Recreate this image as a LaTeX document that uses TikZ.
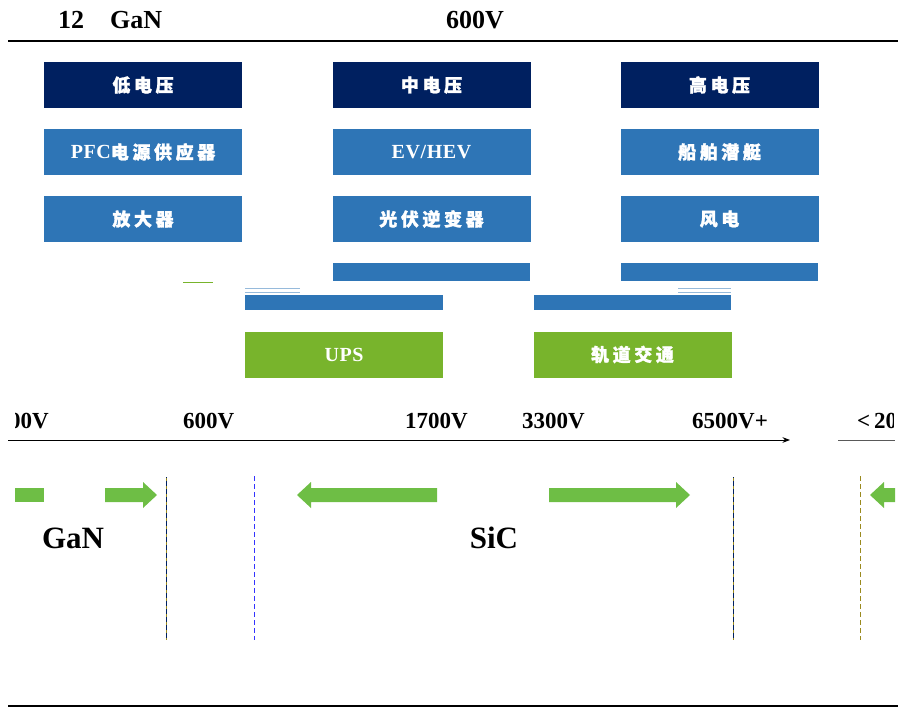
\documentclass[tikz,border=0pt]{standalone}
\usepackage{fontspec}
\setmainfont{Liberation Serif}
\newfontfamily\cjk{Noto Sans CJK SC}[FakeBold=1.5, LetterSpace=20]
\usetikzlibrary{arrows.meta}
\usetikzlibrary{calc,positioning}

\definecolor{navy}{HTML}{002060}
\definecolor{midblue}{HTML}{2E75B6}
\definecolor{leafgreen}{HTML}{78B42C}
\definecolor{arrowgreen}{HTML}{6EBE45}
\definecolor{olive}{HTML}{9A8A1E}

\begin{document}
\begin{tikzpicture}[x=1pt, y=-1pt, >=Stealth,
    box/.style = {minimum width=198pt, minimum height=46pt, inner sep=0pt,
                  text=white, font=\fontsize{20}{22}\selectfont\bfseries\addfontfeatures{LetterSpace=3}},
    headbox/.style = {box, fill=navy},
    appbox/.style = {box, fill=midblue},
    greenbox/.style = {box, fill=leafgreen},
    volt/.style = {font=\fontsize{23}{26}\selectfont\bfseries, inner sep=0pt},
    bigname/.style = {font=\fontsize{31}{34}\selectfont\bfseries, inner sep=0pt},
    vdash/.style = {dashed, dash pattern=on 5pt off 3pt, line width=0.8pt}]

    \useasboundingbox (0,0) rectangle (913,709);

    % title and rules
    \node[font=\fontsize{26}{28}\selectfont\bfseries, anchor=west, inner sep=0pt] (title) at (58,20) {12\hspace{1em}GaN};
    \node[font=\fontsize{26}{28}\selectfont\bfseries, inner sep=0pt] (ttlv) at (475,20) {600V};
    \draw[line width=2pt] (8,41) coordinate (rulea) -- (898,41);
    \draw[line width=2pt] (8,706) coordinate (ruleb) -- (898,706);

    % voltage classes
    \node[headbox] (low) at (143,85) {\cjk\fontsize{18}{20}\selectfont 低电压};
    \node[headbox] (mid) at (431.5,85) {\cjk\fontsize{18}{20}\selectfont 中电压};
    \node[headbox] (high) at (719.5,85) {\cjk\fontsize{18}{20}\selectfont 高电压};

    \node[appbox] (pfc) at (143,152) {PFC{\cjk\fontsize{18}{20}\selectfont 电源供应器}};
    \node[appbox] (ev) at (431.5,152) {EV/HEV};
    \node[appbox] (ship) at (719.5,152) {\cjk\fontsize{18}{20}\selectfont 船舶潜艇};

    \node[appbox] (amp) at (143,219) {\cjk\fontsize{18}{20}\selectfont 放大器};
    \node[appbox] (pv) at (431.5,219) {\cjk\fontsize{18}{20}\selectfont 光伏逆变器};
    \node[appbox] (wind) at (719.5,219) {\cjk\fontsize{18}{20}\selectfont 风电};

    % broken band
    \fill[midblue] (333,263) rectangle (530,281);
    \fill[midblue] (621,263) rectangle (818,281);
    \fill[midblue] (245,295) rectangle (443,310);
    \fill[midblue] (534,295) rectangle (731,310);
    \draw[leafgreen, line width=1pt] (183,282) -- (213,282);
    \draw[midblue!50, line width=1pt] (245,288) -- (300,288) (245,292) -- (300,292);
    \draw[midblue!50, line width=1pt] (678,288) -- (731,288) (678,292) -- (731,292);

    \node[greenbox] (ups) at (344,354.5) {UPS};
    \node[greenbox] (rail) at (632.5,354.5) {\cjk\fontsize{18}{20}\selectfont 轨道交通};

    % voltage axis
    \begin{scope}
        \clip (15,400) rectangle (893,460);
        \node[volt, anchor=east] (vlow) at (49,421) {00V};
        \node[volt, anchor=west] (vtop) at (857,421) {<\,20};
    \end{scope}
    \node[volt, anchor=west] (v600) at (183,421) {600V};
    \node[volt, anchor=west] (v1700) at (405,421) {1700V};
    \node[volt, anchor=west] (v3300) at (522,421) {3300V};
    \node[volt, anchor=west] (v6500) at (692,421) {6500V+};
    \draw[->, line width=1pt] (8,440) coordinate (axs) -- (790,440) coordinate (axe);
    \draw[gray!70!black, line width=1pt] (838,440) -- (895,440);

    % range arrows
    \fill[arrowgreen] (15,488) rectangle (44,502);
    \fill[arrowgreen] (105,488) -- (143,488) -- (143,482) -- (157,495) -- (143,508) -- (143,502) -- (105,502) -- cycle;
    \fill[arrowgreen] (437,488) -- (311,488) -- (311,482) -- (297,495) -- (311,508) -- (311,502) -- (437,502) -- cycle;
    \fill[arrowgreen] (549,488) -- (676,488) -- (676,482) -- (690,495) -- (676,508) -- (676,502) -- (549,502) -- cycle;
    \fill[arrowgreen] (895,488) -- (884,488) -- (884,482) -- (870,495) -- (884,508) -- (884,502) -- (895,502) -- cycle;

    % boundaries
    \draw[vdash, olive] (166,477) -- (166,640);
    \draw[vdash, navy, dash phase=4pt] (166,477) -- (166,640);
    \draw[vdash, blue!80] (254,476) -- (254,640);
    \draw[vdash, olive] (733,477) -- (733,640);
    \draw[vdash, navy, dash phase=4pt] (733,477) -- (733,640);
    \draw[vdash, olive] (860,476) -- (860,640);

    \node[bigname] (gan) at (73,538) {GaN};
    \node[bigname] (sic) at (494,538) {SiC};

\end{tikzpicture}
\end{document}
